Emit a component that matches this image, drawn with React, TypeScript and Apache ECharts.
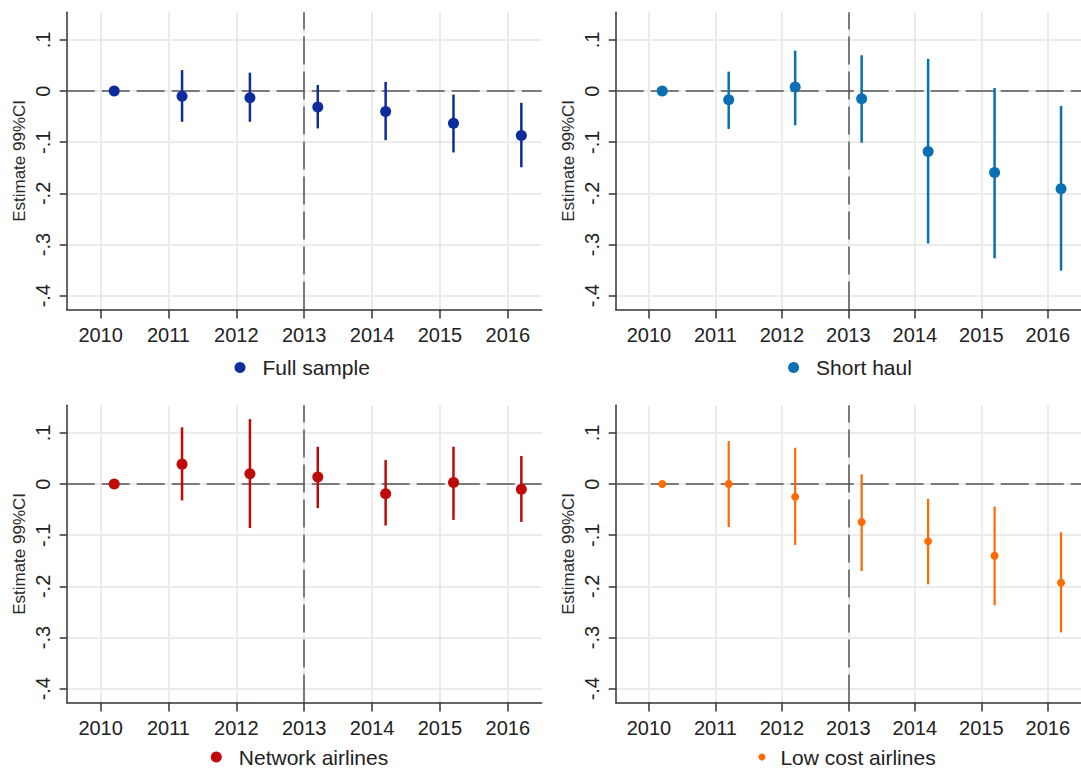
import React, { useEffect, useRef } from 'react';
import * as echarts from 'echarts';

// ---------- data ----------
const years = [2010, 2011, 2012, 2013, 2014, 2015, 2016];
const xTickLabels = ['2010', '2011', '2012', '2013', '2014', '2015', '2016'];
const pointOffset = 0.2;
const treatmentYear = 2013;
const yTickValues = [-0.4, -0.3, -0.2, -0.1, 0, 0.1];
const yTickLabels = ['-.4', '-.3', '-.2', '-.1', '0', '.1'];
const yAxisTitle = 'Estimate 99%CI';

const panelNames = ['Full sample', 'Short haul', 'Network airlines', 'Low cost airlines'];

const fullEst = [0, -0.010, -0.013, -0.031, -0.040, -0.063, -0.087];
const fullLo = [null, -0.060, -0.060, -0.073, -0.096, -0.120, -0.149];
const fullHi = [null, 0.041, 0.036, 0.012, 0.018, -0.007, -0.023];

const shortEst = [0, -0.017, 0.008, -0.015, -0.118, -0.159, -0.191];
const shortLo = [null, -0.074, -0.067, -0.101, -0.298, -0.327, -0.351];
const shortHi = [null, 0.038, 0.079, 0.070, 0.063, 0.006, -0.029];

const networkEst = [0, 0.039, 0.020, 0.014, -0.019, 0.003, -0.010];
const networkLo = [null, -0.032, -0.086, -0.047, -0.081, -0.070, -0.074];
const networkHi = [null, 0.111, 0.127, 0.073, 0.047, 0.073, 0.055];

const lowCostEst = [0, 0.000, -0.025, -0.074, -0.112, -0.140, -0.193];
const lowCostLo = [null, -0.084, -0.119, -0.170, -0.196, -0.237, -0.290];
const lowCostHi = [null, 0.084, 0.071, 0.019, -0.029, -0.044, -0.094];

const panelEst = [fullEst, shortEst, networkEst, lowCostEst];
const panelLo = [fullLo, shortLo, networkLo, lowCostLo];
const panelHi = [fullHi, shortHi, networkHi, lowCostHi];

// ---------- styling / layout ----------
const FONT = '"Liberation Sans", Arial, Helvetica, sans-serif';
const panelColors = ['#0d2c9e', '#0a6fb3', '#c00a0a', '#ff6a00'];
const markerSizes = [11, 11, 11, 8];
const ciWidths = [2.5, 2.5, 2.5, 2.2];
const legendIcon = [11, 11, 11, 7];
const legendLeft = [234.5, 788.1, 210.8, 758.4];
const legendPad = [12, 12, 12, 10];
const gridLeft = [66.7, 615.7, 66.7, 615.7];
const gridTop = [12.3, 12.3, 405.3, 405.3];
const legendTop = [356.5, 356.5, 746, 746];
const GRID_W = 475;
const GRID_H = 297.2;
const X_MIN = 2009.5;
const X_MAX = 2016.5;
const Y_MIN = -0.427;
const Y_MAX = 0.154;

function buildOption() {
  const grid: any[] = [];
  const xAxis: any[] = [];
  const yAxis: any[] = [];
  const series: any[] = [];
  const legend: any[] = [];

  for (let i = 0; i < 4; i++) {
    grid.push({ left: gridLeft[i], top: gridTop[i], width: GRID_W, height: GRID_H, containLabel: false });
    xAxis.push({
      type: 'value',
      gridIndex: i,
      min: X_MIN,
      max: X_MAX,
      axisLine: { show: true, onZero: false, lineStyle: { color: '#333', width: 1.5 } },
      axisTick: { show: true, length: 9, customValues: years, lineStyle: { color: '#333', width: 1.5 } },
      axisLabel: {
        customValues: years,
        margin: 15,
        fontSize: 20,
        fontFamily: FONT,
        color: '#222',
        formatter: (v: number) => xTickLabels[years.indexOf(Math.round(v))] ?? '',
      },
      splitLine: { show: true, lineStyle: { color: '#ebebeb', width: 2 } },
    });
    yAxis.push({
      type: 'value',
      gridIndex: i,
      min: Y_MIN,
      max: Y_MAX,
      name: yAxisTitle,
      nameLocation: 'middle',
      nameRotate: 90,
      nameGap: 39,
      nameTextStyle: { fontSize: 17, fontFamily: FONT, color: '#2a2a2a' },
      axisLine: { show: true, onZero: false, lineStyle: { color: '#333', width: 1.5 } },
      axisTick: { show: true, length: 7, customValues: yTickValues, lineStyle: { color: '#333', width: 1.5 } },
      axisLabel: {
        customValues: yTickValues,
        rotate: 90,
        margin: 14,
        fontSize: 20,
        fontFamily: FONT,
        color: '#222',
        formatter: (v: number) => {
          const idx = yTickValues.findIndex((t) => Math.abs(t - v) < 1e-6);
          return idx >= 0 ? yTickLabels[idx] : '';
        },
      },
      splitLine: { show: true, lineStyle: { color: '#ebebeb', width: 2 } },
    });

    const color = panelColors[i];
    const ciData: any[] = [];
    const ptData: any[] = [];
    years.forEach((yr, k) => {
      ptData.push([yr + pointOffset, panelEst[i][k]]);
      if (panelLo[i][k] !== null && panelHi[i][k] !== null) {
        ciData.push([yr + pointOffset, panelLo[i][k], panelHi[i][k]]);
      }
    });

    series.push({
      type: 'custom',
      name: panelNames[i] + ' CI',
      xAxisIndex: i,
      yAxisIndex: i,
      z: 2,
      encode: { x: 0, y: [1, 2] },
      data: ciData,
      renderItem: (params: any, api: any) => {
        const x = api.value(0);
        const a = api.coord([x, api.value(1)]);
        const b = api.coord([x, api.value(2)]);
        return {
          type: 'line',
          shape: { x1: a[0], y1: a[1], x2: b[0], y2: b[1] },
          style: { stroke: color, lineWidth: ciWidths[i] },
        };
      },
      markLine: {
        silent: true,
        symbol: 'none',
        z: 1,
        label: { show: false },
        emphasis: { disabled: true },
        lineStyle: { color: '#555', width: 1.5, type: [28, 7] },
        data: [{ yAxis: 0 }, { xAxis: treatmentYear }],
      },
    });
    series.push({
      type: 'scatter',
      name: panelNames[i],
      xAxisIndex: i,
      yAxisIndex: i,
      z: 3,
      symbol: 'circle',
      symbolSize: markerSizes[i],
      itemStyle: { color, opacity: 1 },
      data: ptData,
    });

    legend.push({
      data: [panelNames[i]],
      left: legendLeft[i],
      top: legendTop[i],
      padding: 0,
      icon: 'circle',
      itemWidth: legendIcon[i],
      itemHeight: legendIcon[i],
      selectedMode: false,
      textStyle: {
        fontSize: 21,
        lineHeight: 22,
        fontFamily: FONT,
        color: '#222',
        padding: [0, 0, 0, legendPad[i]],
      },
    });
  }

  return {
    animation: false,
    backgroundColor: '#ffffff',
    textStyle: { fontFamily: FONT },
    grid,
    xAxis,
    yAxis,
    legend,
    series,
  };
}

export default function App() {
  const ref = useRef<HTMLDivElement>(null);
  useEffect(() => {
    if (!ref.current) return;
    const chart = echarts.init(ref.current, undefined, { renderer: 'svg' });
    chart.setOption(buildOption() as any);
    return () => chart.dispose();
  }, []);
  return (
    <div
      ref={ref}
      style={{ position: 'absolute', left: 0, top: 0, width: 1081, height: 769, background: '#fff' }}
    />
  );
}
